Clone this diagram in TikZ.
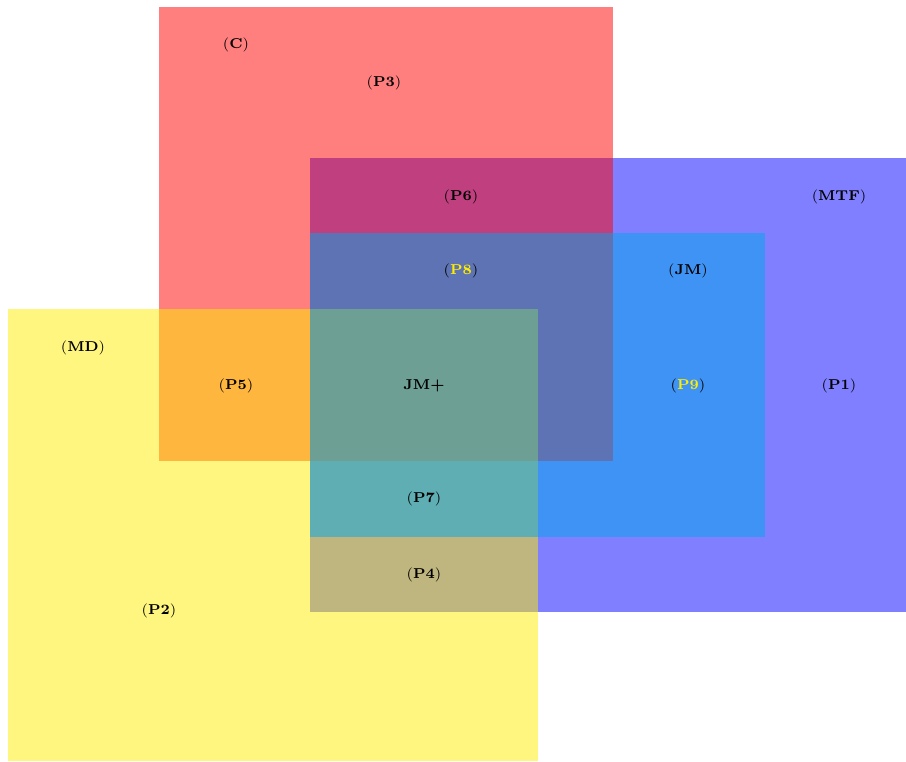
\documentclass[tikz,border=0pt]{standalone}
\definecolor{myyellow}{RGB}{255,238,0}
\definecolor{jmblue}{RGB}{0,168,233}
\definecolor{mtfblue}{RGB}{0,0,255}
\definecolor{cred}{RGB}{255,0,0}
\begin{document}
\begin{tikzpicture}[x=0.49pt,y=-0.49pt,
  lab/.style={font=\fontsize{7}{8}\selectfont, inner sep=0pt, text=black},
  setbox/.style={fill opacity=0.5, draw=none}]
\useasboundingbox (0,0) rectangle (906,762);
% sets
\fill[setbox, fill=mtfblue] (310,158) rectangle (906,612);
\fill[setbox, fill=cred] (159,7) rectangle (613,461);
\fill[setbox, fill=myyellow] (8,309) rectangle (538,761);
\fill[setbox, fill=jmblue] (310,233) rectangle (765,537);
% labels
\node[lab] (c)   at (236,45)  {(\textbf{C})};
\node[lab] (p3)  at (384,83)  {(\textbf{P3})};
\node[lab] (p6)  at (461,197) {(\textbf{P6})};
\node[lab] (mtf) at (839,197) {(\textbf{MTF})};
\node[lab] (p8)  at (461,271) {(\textcolor{myyellow}{\textbf{P8}})};
\node[lab] (jm)  at (688,271) {(\textbf{JM})};
\node[lab] (md)  at (83,348)  {(\textbf{MD})};
\node[lab] (p5)  at (236,386) {(\textbf{P5})};
\node[lab] (jmp) at (424,386) {\textbf{JM+}};
\node[lab] (p9)  at (688,386) {(\textcolor{myyellow}{\textbf{P9}})};
\node[lab] (p1)  at (839,386) {(\textbf{P1})};
\node[lab] (p7)  at (424,499) {(\textbf{P7})};
\node[lab] (p4)  at (424,575) {(\textbf{P4})};
\node[lab] (p2)  at (159,611) {(\textbf{P2})};
\end{tikzpicture}
\end{document}
